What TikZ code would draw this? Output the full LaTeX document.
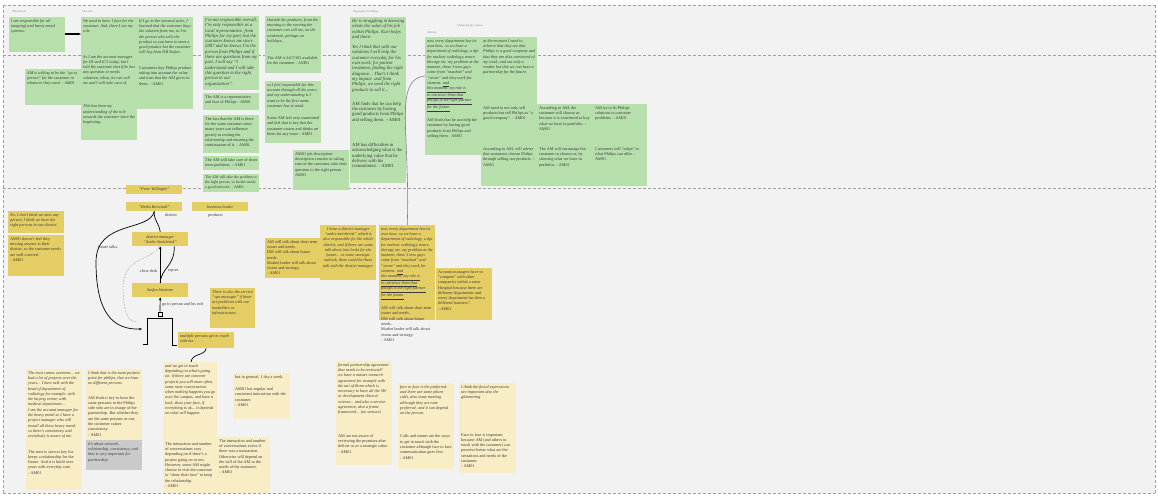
\documentclass[tikz,border=0pt]{standalone}
\usepackage{tikz}
\usetikzlibrary{arrows.meta, positioning}
\usepackage{xcolor}
\usepackage{fontspec}
\setmainfont{Liberation Serif}
\definecolor{boardbg}{HTML}{F2F2F2}
\definecolor{notegreen}{HTML}{B6DFAB}
\definecolor{notemustard}{HTML}{E4CD62}
\definecolor{notecream}{HTML}{F8EDC5}
\definecolor{notegray}{HTML}{CACACA}
\definecolor{inkgray}{HTML}{3A3A3A}
\newcommand{\card}[3]{\parbox[t][\dimexpr#2pt-4pt\relax][t]{\dimexpr#1pt-4pt\relax}{\raggedright #3}}
\newcommand{\ulpart}{\underline{and}\\ \underline{this moment, my role is}\\ \underline{to convince them that}\\ \underline{philips is the right partner}\\ \underline{for the future.}}

\begin{document}
\begin{tikzpicture}[
    x=1pt, y=-1pt,
    every node/.style={font=\fontsize{4.2}{5.3}\selectfont, text=inkgray},
    gnote/.style={fill=notegreen, anchor=north west, inner sep=2pt},
    ynote/.style={fill=notemustard, anchor=north west, inner sep=2pt},
    cnote/.style={fill=notecream, anchor=north west, inner sep=2pt},
    greynote/.style={fill=notegray, anchor=north west, inner sep=2pt},
    bigtext/.style={font=\fontsize{4.7}{5.3}\selectfont},
    smalltext/.style={font=\fontsize{3.9}{5}\selectfont},
    namebox/.style={fill=notemustard, anchor=north west, inner sep=1pt,
                    minimum width=56pt, minimum height=9pt, align=center,
                    font=\fontsize{4.2}{5}\selectfont\itshape},
    tag/.style={anchor=west, inner sep=0pt, text=gray,
                font=\fontsize{2.8}{3}\selectfont},
    lbl/.style={anchor=west, inner sep=0pt},
    frameline/.style={densely dashed, gray!75, line width=0.5pt},
    orgline/.style={black, line width=0.7pt},
    orgarr/.style={black, line width=0.7pt, -{Stealth[length=3pt, width=2.6pt]}}
]
    % board
    \useasboundingbox (0,0) rectangle (1158,497);
    \fill[boardbg] (3,5) rectangle (1155,493);
    \draw[frameline] (3,5) -- (1155,5);
    \draw[frameline] (3,55) -- (1155,55);
    \draw[frameline] (3,188) -- (1155,188);
    \draw[frameline] (3,493) -- (1155,493);
    \draw[frameline] (3,5) -- (3,493);
    \draw[frameline] (1155,5) -- (1155,493);

    % column tags
    \node[tag] (tagoff) at (12,12) {Official role};
    \node[tag] (taguser) at (82,12) {User role};
    \node[tag] (tagimp) at (353,12) {Importance for Philips};
    \node[tag] (tagctx) at (457,26) {Explaining the context};
    \node[tag] (tagam) at (427,33) {AM role};

    % top row - green notes
    \node[gnote] (offrole) at (9,17) {\card{56}{35}{\itshape I am responsible for all imaging) and heavy metal systems.}};
    \node[gnote] (gotoperson) at (25,69) {\card{56}{36}{\itshape AM is willing to be the ``go to person'' for the customer in whatever they need. - AM01}};
    \node[gnote] (userrole) at (81,17) {\card{56}{123}{\itshape We used to have 1 face for the customer. And, there I see my role.\\[20pt]
        So I am the account manager for DI and ICT today, but I told the customer that if he has any question or needs solutions, ideas, he can call me and I will take care of.\\[18pt]
        This has been my understanding of the role towards the customer since the beginning.}};
    \node[gnote] (extsales) at (137,17) {\card{56}{92}{\itshape If I go in the external sales, I learned that the customer buys the solution from me, so I'm the person who sells the product so you have to meet a good product but the customer will buy from HB Stefan.\\[10pt]
        \upshape Customers buy Philips product taking into account the value and trust that the AM gives to them. - AM01}};
    \node[gnote, bigtext] (localrep) at (203,16) {\card{56}{74}{\itshape I'm not responsible overall, I'm only responsible as a local representative, from Philips for my part, but the customer knows me since 2007 and he knows I'm the person from Philips and if there are questions from my part, I will say ``I understand and I will take this question to the right person in our organization''.}};
    \node[gnote] (face) at (203,93) {\card{56}{17}{The AM is a representative and face of Philips - AM01}};
    \node[gnote] (years) at (203,115) {\card{56}{38}{The fact that the AM is there for the same customer since many years can influence greatly in rooting the relationship and ensuring the continuation of it. - AM01}};
    \node[gnote] (shortterm) at (203,156) {\card{56}{14}{The AM will take care of short term problems. - AM01}};
    \node[gnote, smalltext] (network) at (203,174) {\card{56}{18}{The AM will take the problem to the right person, so he/she needs a good network. - AM01}};
    \node[gnote] (always) at (265,16) {\card{56}{57}{\itshape Outside the products, from the morning to the evening the customer can call me, on the weekends, perhaps on holidays...\\[12pt]
        \upshape The AM is 24/7/365 available for the customer - AM01}};
    \node[gnote] (firstname) at (265,81) {\card{56}{62}{\itshape so I feel responsible for this account through all the years, and my understanding is I want to be the first name customer has in mind.\\[7pt]
        \upshape Some AM feel very committed and feel that is key that the customer counts and thinks on them for any issue - AM01}};
    \node[gnote] (jobdesc) at (293,150) {\card{56}{40}{AM01 job description: description consists in taking care of the customer, take their question to the right person - AM01}};
    \node[gnote, bigtext] (value) at (350,17) {\card{56}{166}{\itshape He is struggling in knowing whats the value of his job within Philips. Kurt helps and there:\\[5pt]
        Yes I think that with our solutions I will help the customer everyday for his own work, for patient treatment, finding the right diagnose... That's I think my impact. and from Philips, we need the right products to sell it...\\[9pt]
        \upshape AM finds that he can help the customer by having good products from Philips and selling them. - AM01\\[20pt]
        AM has difficulties in acknowledging what is the underlying value that he delivers with his commitment. - AM01}};

    % AM role block
    \node[gnote] (newboss) at (425,37) {\card{56}{118}{\itshape now every department has its own boss. so we have a department of radiology, a dpt for nuclear radiology, neuro therapy etc. my problem at the moment, these 3 new guys come from ``manhatt'' and ``neom'' and they work for siemens. \ulpart\\[6pt]
        \upshape AM finds that he can help the customer by having good products from Philips and selling them - AM01}};
    \node[gnote] (goodcomp) at (481,37) {\card{56}{67}{\itshape at the moment I need to achieve that they see that Philips is a good company and that they are also convinced of my work, and not only a vendor but that we can have a partnership for the future.}};
    \node[gnote] (sellphil) at (481,104) {\card{56}{41}{AM need to not only sell products but sell Philips as ``a good company''. - AM01}};
    \node[gnote] (convinced) at (537,104) {\card{56}{41}{According to AM, the customer will choose us because it is convinced to buy what we have in portfolio. - AM01}};
    \node[gnote] (fitsol) at (593,104) {\card{54}{41}{AM try to fit Philips solutions to customer problems. - AM01}};
    \node[gnote] (advise) at (481,145) {\card{56}{41}{According to AM, will advise that customers choose Philips through selling our products. - AM01}};
    \node[gnote] (encourage) at (537,145) {\card{56}{41}{The AM will encourage the customer to choose us, by showing what we have in portfolio. - AM01}};
    \node[gnote] (adapt) at (593,145) {\card{54}{41}{Customers will ``adapt'' to what Philips can offer. - AM01}};

    \draw[black, line width=1.2pt, -{Stealth[length=3pt]}] (offrole.east |- 0,34) -- (userrole.west |- 0,34);

    % middle row - organisation
    \node[namebox] (peter) at (126,185) {``Peter Vallinghe''};
    \node[namebox] (heiko) at (126,202) {``Heiko Borwindt''};
    \node[namebox] (bizlead) at (192,202) {business leader};
    \node[lbl] (lbldistrict) at (165,215) {district};
    \node[lbl] (lblproducts) at (208,215) {products};
    \node[namebox, minimum height=14pt] (andre) at (132,232) {district manager\\``Andre Steinbrink''};
    \node[namebox, minimum height=14pt] (stefan) at (132,283) {Stefan Streitner};
    \node[ynote] (nomiss) at (8,211) {\card{56}{22}{\itshape No, I don't think we miss any person, I think we have the right persons in our district.}};
    \node[ynote] (covered) at (8,235) {\card{56}{41}{AM01 doesn't feel they missing anyone in their district, so the customer needs are well covered.\\ - AM01}};
    \node[ynote] (opsman) at (210,288) {\card{45}{40}{\itshape There is also the service ``ops manager'' if there are problems with our modalities or infrastructure...}};
    \node[ynote] (multiple) at (178,332) {\card{56}{16}{\itshape multiple persons get in touch with me.}};
    \node[lbl] (lblfuture) at (98,247) {future talks.};
    \node[lbl] (lblclose) at (140,271) {close desk};
    \node[lbl] (lblreport) at (168,271) {report};
    \node[lbl] (lblgoto) at (162,304) {go to person and his role};

    % the account manager
    \node[draw=black, line width=0.6pt, minimum size=4pt, inner sep=0pt] (head) at (160,314) {};
    \draw[black, line width=0.8pt] (143,344) -- (147,344) -- (147,318) -- (172,318) -- (172,345) -- (177,345);
    \coordinate (amside) at (142,329);

    \draw[orgline] (heiko.south) .. controls (154,222) and (159,222) .. (andre.north);
    \draw[orgarr] (heiko.south) .. controls (150,232) and (96,220) .. (96,262)
        .. controls (96,312) and (112,330) .. (amside);
    \draw[orgarr] (stefan.north) -- (andre.south);
    \draw[orgline] ([xshift=14pt]andre.south) .. controls (175,266) and (161,268) .. (stefan.north);
    \draw[gray, densely dotted, line width=0.5pt] ([xshift=-1pt]andre.south) .. controls (150,262) and (122,256) .. (123,290)
        .. controls (124,318) and (130,322) .. (138,322);
    \draw[orgarr] (head.north) -- (stefan.south);

    % middle row - talks
    \node[ynote] (talks) at (265,238) {\card{55}{40}{AM will talk about short term issues and needs.\\ DM will talk about future needs.\\ Market leader will talk about vision and strategy.\\ - AM01}};
    \node[ynote] (dmtalk) at (320,225) {\card{56}{55}{\centering\itshape I have a district manager ``andre steinbrink'' which is also responsible for the whole district, and if there are some talk about into looks for the future... or some strategic outlook, there could be these talk with the district manager.}};
    \node[ynote] (newboss2) at (379,225) {\card{56}{95}{\itshape now every department has its own boss. so we have a department of radiology, a dpt for nuclear radiology, neuro therapy etc. my problem at the moment, these 3 new guys come from ``manhatt'' and ``neom'' and they work for siemens. \ulpart\\[6pt]
        \upshape AM will talk about short term issues and needs.\\ DM will talk about future needs.\\ Market leader will talk about vision and strategy.\\ - AM01}};
    \node[ynote] (compete) at (436,268) {\card{56}{52}{Account managers have to ``compete'' with other companies within a same Hospital because there are different departments and every department has then a different business''.\\ - AM01}};

    \draw[gray, line width=0.6pt] ([yshift=-39pt]newboss.north west) .. controls (405,78) and (404,100) .. (406,140)
        .. controls (408,190) and (408,205) .. (newboss2.north);
    \draw[orgline] (multiple.south) .. controls (205,356) and (192,353) .. (191,362);

    % bottom row - cream notes
    \node[cnote] (trust) at (26,369) {\card{56}{121}{\itshape The trust comes overtime... we had a lot of projects over the years... I have talk with the head of department of radiology for example, with the buying center, with medical department...\\ I am the account manager for the heavy metal so I have a project manager who will install all these heavy metal, so there's consistency and everybody is aware of me.\\[10pt]
        \upshape The trust is seen as key for keeps a relationship for the future. And it is build over years with everyday care.\\ - AM01}};
    \node[cnote] (sameperson) at (86,369) {\card{56}{71}{\itshape I think that is the main positive point for philips, that we have no different persons.\\[9pt]
        \upshape AM finds it key to have the same person/s in the Philips side who are in charge of the partnership. But whether they are the same persons or not, the customer values consistency.\\ - AM01}};
    \node[greynote] (netw) at (86,440) {\card{56}{30}{\itshape it's about network, relationship, consistency, and that is very important for partnership.}};
    \node[cnote] (intouch) at (163,362) {\card{54}{78}{\itshape and we get in touch depending on what's going on. if there are concrete projects you will more often, some more conversation. when nothing happens you go over the campus, and have a look, show your face, if everything is ok... it depends on what will happen.}};
    \node[cnote] (vary) at (163,440) {\card{54}{53}{The interaction and number of conversations vary depending on if there's a project going on or not.\\ However, some AM might choose to visit the customer to ``show their face'' to keep the relationship.\\ - AM01}};
    \node[cnote] (transact) at (217,437) {\card{53}{56}{The interaction and number of conversations exists if there was a transaction. Otherwise will depend on the will of the AM or the needs of the customer.\\ - AM01}};
    \node[cnote] (weekly) at (233,373) {\card{57}{46}{but in general, 1 day a week.\\[7pt]
        AM01 has regular and consistent interaction with the customer.\\ - AM01}};
    \node[cnote] (agreement) at (336,361) {\card{56}{104}{\itshape formal partnership agreement that needs to be reviewed?\\ we have a master research agreement for example with the uni of Bonn which is necessary to have all the SW or development clinical science... and also a service agreement, also a frame framework... (no answer)\\[18pt]
        \upshape AM are not aware of reviewing the promises after deliver or as a strategic value.\\ - AM01}};
    \node[cnote] (facetoface) at (398,383) {\card{56}{86}{\itshape face to face is the preferred. and there are some phone calls, also some meeting although they are note preferred. and it can depend on the person.\\[18pt]
        \upshape Calls and zooms are the ways to get in touch with the customer although face to face communication goes first.\\ - AM01}};
    \node[cnote] (facial) at (459,383) {\card{57}{90}{\itshape I think the facial expressions are important also the glimmering\\[32pt]
        \upshape Face to face is important because AM (and others in touch with the customer) can perceive better what are the sensations and needs of the customer.\\ - AM01}};
\end{tikzpicture}
\end{document}
